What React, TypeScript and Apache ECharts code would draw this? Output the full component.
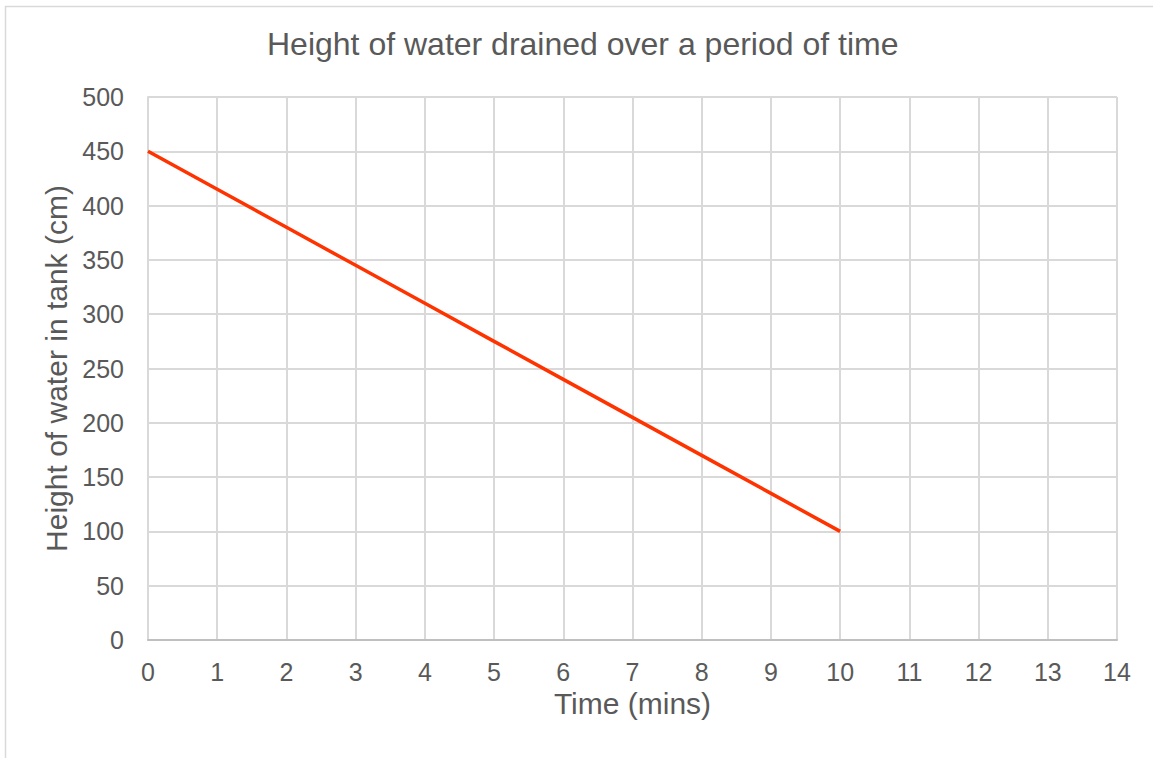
import React, { useEffect, useRef } from "react";
import * as echarts from "echarts";

const chartTitle = "Height of water drained over a period of time";
const xAxisName = "Time (mins)";
const yAxisName = "Height of water in tank (cm)";
const timeMins = [0, 1, 2, 3, 4, 5, 6, 7, 8, 9, 10];
const heightCm = [450, 415, 380, 345, 310, 275, 240, 205, 170, 135, 100];

export default function App() {
  const ref = useRef<HTMLDivElement>(null);
  useEffect(() => {
    if (!ref.current) return;
    const chart = echarts.init(ref.current, undefined, { renderer: "svg" });
    const textColor = "#595959";
    const font = "'Liberation Sans', Arial, sans-serif";
    chart.setOption({
      animation: false,
      backgroundColor: "#ffffff",
      textStyle: { fontFamily: font },
      title: {
        text: chartTitle,
        left: 262,
        top: 23,
        textStyle: { color: textColor, fontSize: 32, fontWeight: "normal", fontFamily: font },
      },
      graphic: [
        {
          type: "rect",
          shape: { x: 5.5, y: 6.5, width: 1200, height: 800 },
          style: { fill: "none", stroke: "#d9d9d9", lineWidth: 1.5 },
          silent: true,
        },
      ],
      grid: { left: 148, right: 36, top: 97, bottom: 118 },
      xAxis: {
        type: "value",
        min: 0,
        max: 14,
        interval: 1,
        name: xAxisName,
        nameLocation: "middle",
        nameGap: 47,
        nameTextStyle: { color: textColor, fontSize: 30, fontFamily: font },
        axisLine: { show: true, lineStyle: { color: "#bfbfbf", width: 2 } },
        axisTick: { show: false },
        axisLabel: { color: textColor, fontSize: 25, margin: 19, fontFamily: font },
        splitLine: { show: true, lineStyle: { color: "#d9d9d9", width: 2 } },
      },
      yAxis: {
        type: "value",
        min: 0,
        max: 500,
        interval: 50,
        name: yAxisName,
        nameLocation: "middle",
        nameGap: 76,
        nameTextStyle: { color: textColor, fontSize: 30, fontFamily: font },
        axisLine: { show: true, lineStyle: { color: "#d9d9d9", width: 2 } },
        axisTick: { show: false },
        axisLabel: { color: textColor, fontSize: 25, margin: 24, fontFamily: font },
        splitLine: { show: true, lineStyle: { color: "#d9d9d9", width: 2 } },
      },
      series: [
        {
          type: "line",
          data: timeMins.map((t, i) => [t, heightCm[i]]),
          showSymbol: false,
          symbol: "none",
          lineStyle: { color: "#ff3300", width: 3.5 },
        },
      ],
    });
    return () => chart.dispose();
  }, []);
  return (
    <div
      ref={ref}
      style={{ position: "fixed", left: 0, top: 0, width: 1153, height: 758 }}
    />
  );
}
